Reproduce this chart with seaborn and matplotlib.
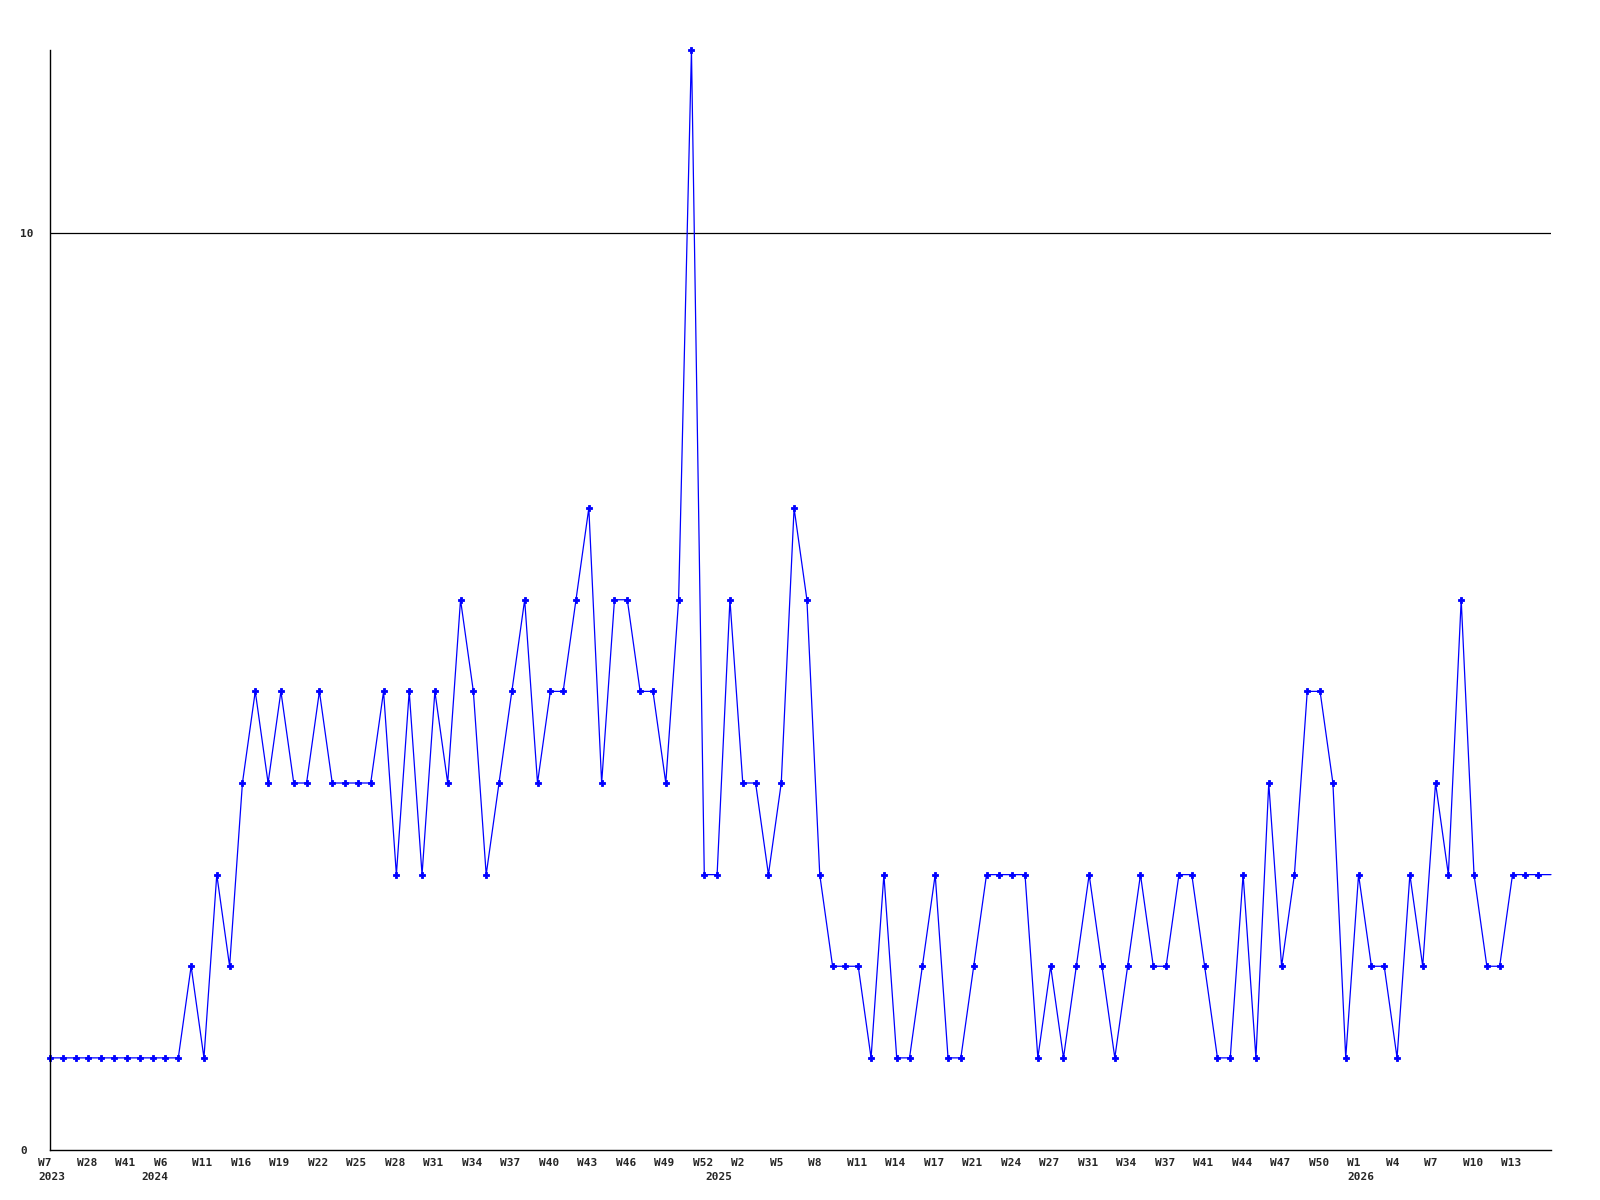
import matplotlib
matplotlib.use("Agg")
import matplotlib.pyplot as plt
import matplotlib.transforms as mtransforms
import numpy as np
import pandas as pd
import seaborn as sns

# ---- data ----
values = [
    1, 1, 1, 1, 1, 1, 1, 1, 1, 1, 1, 2, 1, 3, 2, 4, 5, 4, 5, 4,
    4, 5, 4, 4, 4, 4, 5, 3, 5, 3, 5, 4, 6, 5, 3, 4, 5, 6, 4, 5,
    5, 6, 7, 4, 6, 6, 5, 5, 4, 6, 12, 3, 3, 6, 4, 4, 3, 4, 7, 6,
    3, 2, 2, 2, 1, 3, 1, 1, 2, 3, 1, 1, 2, 3, 3, 3, 3, 1, 2, 1,
    2, 3, 2, 1, 2, 3, 2, 2, 3, 3, 2, 1, 1, 3, 1, 4, 2, 3, 5, 5,
    4, 1, 3, 2, 2, 1, 3, 2, 4, 3, 6, 3, 2, 2, 3, 3, 3, 3,
]
week_labels = [
    "W7", "W28", "W41", "W6", "W11", "W16", "W19", "W22", "W25", "W28",
    "W31", "W34", "W37", "W40", "W43", "W46", "W49", "W52", "W2", "W5",
    "W8", "W11", "W14", "W17", "W21", "W24", "W27", "W31", "W34", "W37",
    "W41", "W44", "W47", "W50", "W1", "W4", "W7", "W10", "W13",
]
year_labels = ["2023", "2024", "2025", "2026"]
year_start_index = [0, 8, 52, 102]
y_tick_values = [0, 10]
label_every = 3

df = pd.DataFrame({"idx": np.arange(len(values)), "value": values})

sns.set_style("white")
plt.rcParams["font.family"] = ["DejaVu Sans Mono", "DejaVu Sans"]

fig = plt.figure(figsize=(16, 12), dpi=100)
W, H = 1600, 1200
ax = fig.add_axes([50 / W, 1 - 1149.5 / H, (1551 - 50) / W, (1149.5 - 50) / H])

sns.lineplot(
    data=df, x="idx", y="value", ax=ax,
    color="#0000ff", linewidth=0.9,
    marker="P", markersize=5, markeredgewidth=0.6, markeredgecolor="#0000ff",
    markevery=list(range(len(values) - 1)),
    clip_on=False,
)

ax.axhline(10, color="black", linewidth=0.9, zorder=1)

ax.set_xlim(0, len(values) - 1)
ax.set_ylim(0, 12)
ax.set_xlabel("")
ax.set_ylabel("")

for side in ["top", "right"]:
    ax.spines[side].set_visible(False)
for side in ["left", "bottom"]:
    ax.spines[side].set_color("black")
    ax.spines[side].set_linewidth(1.0)

# x ticks: week labels every 3 points, years as a second row
ax.xaxis.remove_overlapping_locs = False
ax.set_xticks(list(range(0, len(week_labels) * label_every, label_every)))
ax.set_xticklabels(week_labels)
ax.set_xticks(year_start_index, minor=True)
ax.set_xticklabels(year_labels, minor=True)
ax.tick_params(axis="x", which="major", length=0, pad=6, labelsize=8)
ax.tick_params(axis="x", which="minor", length=0, pad=16, labelsize=8)

offset = mtransforms.ScaledTranslation(-11.5 / 100, 0, fig.dpi_scale_trans)
for lbl in ax.get_xticklabels(which="both"):
    lbl.set_horizontalalignment("left")
    lbl.set_fontweight("bold")
    lbl.set_transform(lbl.get_transform() + offset)

# y ticks only at 0 and 10, left-aligned text
ax.set_yticks(y_tick_values)
ax.set_yticklabels([str(v) for v in y_tick_values])
ax.tick_params(axis="y", length=0, pad=30 * 0.72, labelsize=8)
for lbl in ax.get_yticklabels():
    lbl.set_horizontalalignment("left")
    lbl.set_fontweight("bold")

ax.grid(False)
fig.savefig("out.png", dpi=100, facecolor="white")
